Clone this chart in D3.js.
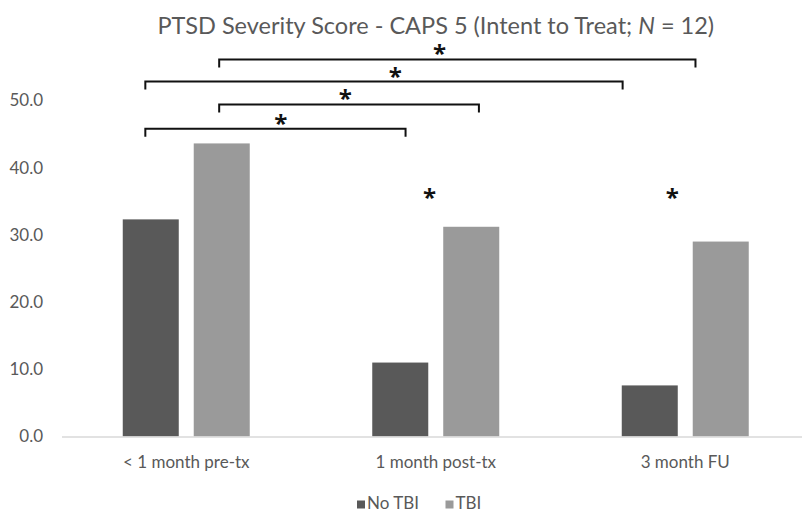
<!DOCTYPE html>
<html>
<head>
<meta charset="utf-8">
<script src="https://cdn.jsdelivr.net/npm/d3@7"></script>
<style>
  html, body { margin: 0; padding: 0; background: #ffffff; }
  svg { display: block; }
  text { font-family: Lato, "Open Sans", sans-serif; }
</style>
</head>
<body>
<svg id="chart" width="802" height="512"></svg>
<script>
// ---- data ----
const categories = ["< 1 month pre-tx", "1 month post-tx", "3 month FU"];
const seriesNames = ["No TBI", "TBI"];
const noTbi = [32.3, 11.0, 7.6];
const tbi = [43.6, 31.2, 29.0];
const yTicks = [0, 10, 20, 30, 40, 50];
const titleText = "PTSD Severity Score - CAPS 5 (Intent to Treat; ";
// significance brackets: endpoints and star position in category-index units, level in score units
const bracketFrom = [0.132, -0.164, 0.132, -0.164];
const bracketTo = [2.041, 1.749, 1.173, 0.879];
const bracketLevel = [56.1, 52.8, 49.4, 45.8];
const bracketStarAt = [1.015, 0.838, 0.637, 0.379];
// standalone group-difference stars
const starAt = [0.975, 1.948];
const starLevel = [36.2, 36.2];

const colors = ["#595959", "#9a9a9a"];
const textColor = "#595959";
const FONT = 'Lato, "Open Sans", sans-serif';
const STAR_FONT = '"Open Sans", sans-serif';

const svg = d3.select("#chart");
const W = 802, H = 512;
const margin = { left: 61.5, right: -8, top: 100.4, bottom: 75.5 };

const x0 = d3.scaleBand().domain(categories).range([margin.left, W - margin.right]).paddingInner(0).paddingOuter(0);
const step = x0.bandwidth();
const x1 = d3.scaleBand().domain(seriesNames).range([step * 0.2455, step * 0.7545]).paddingInner(0.211).paddingOuter(0);
const y = d3.scaleLinear().domain([0, 50]).range([H - margin.bottom, margin.top]);
// category-index position -> pixel
const xi = d3.scaleLinear().domain([0, 1]).range([x0(categories[0]) + step / 2, x0(categories[1]) + step / 2]);

// title
const title = svg.append("text")
  .attr("x", xi(1)).attr("y", 34)
  .attr("text-anchor", "middle")
  .attr("fill", textColor)
  .style("font-size", "23.5px");
title.append("tspan").text(titleText);
title.append("tspan").style("font-style", "italic").text("N");
title.append("tspan").text(" = 12)");

// y axis (labels only)
const yAxis = d3.axisLeft(y).tickValues(yTicks).tickFormat(d3.format(".1f")).tickSize(0).tickPadding(0);
const gy = svg.append("g").attr("transform", `translate(43,0)`).call(yAxis);
gy.select(".domain").remove();
gy.selectAll("text").attr("fill", textColor).style("font-size", "17px").style("font-family", FONT);

// bars
const data = categories.map((c, i) => ({ cat: c, vals: [noTbi[i], tbi[i]] }));
const groups = svg.append("g").selectAll("g").data(data).join("g")
  .attr("transform", d => `translate(${x0(d.cat)},0)`);
groups.selectAll("rect").data(d => d.vals.map((v, j) => ({ s: seriesNames[j], v, j }))).join("rect")
  .attr("x", d => x1(d.s))
  .attr("width", x1.bandwidth())
  .attr("y", d => y(d.v))
  .attr("height", d => y(0) - y(d.v))
  .attr("fill", d => colors[d.j]);

// x axis
const xAxis = d3.axisBottom(x0).tickSize(0).tickPadding(0);
const gx = svg.append("g").attr("transform", `translate(0,${y(0)})`).call(xAxis);
gx.select(".domain").attr("stroke", "#d9d9d9").attr("stroke-width", 1.5);
gx.selectAll("text").attr("fill", textColor).attr("dy", null).attr("y", 31)
  .style("font-size", "17px").style("font-family", FONT);

// brackets
const bg = svg.append("g");
bracketFrom.forEach((f, i) => {
  const xa = xi(f), xb = xi(bracketTo[i]), yl = y(bracketLevel[i]);
  bg.append("path")
    .attr("d", `M${xa},${yl + 8}V${yl}H${xb}V${yl + 8}`)
    .attr("fill", "none").attr("stroke", "#111").attr("stroke-width", 2);
  bg.append("text")
    .attr("x", xi(bracketStarAt[i])).attr("y", yl + 3)
    .attr("text-anchor", "middle").attr("fill", "#111")
    .style("font-size", "24px").style("font-weight", "bold").style("font-family", STAR_FONT).text("*");
});
starAt.forEach((s, i) => {
  bg.append("text")
    .attr("x", xi(s)).attr("y", y(starLevel[i]) + 13)
    .attr("text-anchor", "middle").attr("fill", "#111")
    .style("font-size", "24px").style("font-weight", "bold").style("font-family", STAR_FONT).text("*");
});

// legend
const legend = svg.append("g");
const legX = [357, 445.5];
seriesNames.forEach((s, i) => {
  legend.append("rect").attr("x", legX[i]).attr("y", 500.5).attr("width", 8).attr("height", 8).attr("fill", colors[i]);
  legend.append("text").attr("x", legX[i] + 10).attr("y", 509).attr("fill", textColor)
    .style("font-size", "17px").text(s);
});
</script>
</body>
</html>
